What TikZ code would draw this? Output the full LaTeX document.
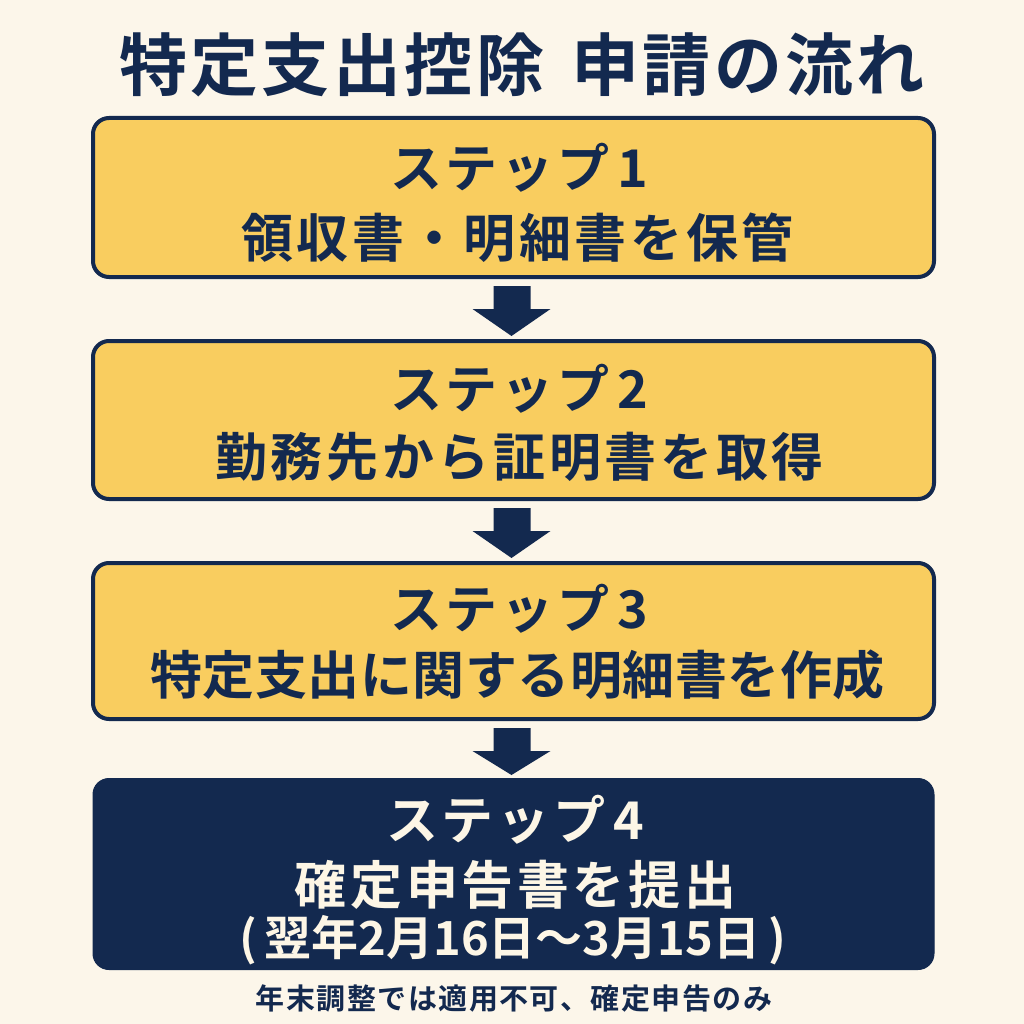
\documentclass[tikz,border=0pt]{standalone}
\usepackage{fontspec}
\setmainfont{Noto Sans CJK JP}[BoldFont={Noto Sans CJK JP Bold}]
\usetikzlibrary{calc}
\definecolor{bg}{HTML}{FCF6EA}
\definecolor{navy}{HTML}{13294F}
\definecolor{gold}{HTML}{F9CD5F}
\definecolor{cream}{HTML}{FDF6E6}
\newcommand{\lsp}[1]{\addfontfeature{LetterSpace=#1}}
\begin{document}
\begin{tikzpicture}[x=1pt,y=-1pt,
  stepbox/.style={draw=navy,line width=4pt,fill=gold,rounded corners=16pt,minimum width=841pt,inner sep=0pt},
  finalbox/.style={draw=navy,line width=1pt,fill=navy,rounded corners=16pt,minimum width=841pt,inner sep=0pt},
  bigtext/.style={text=navy,font=\bfseries\fontsize{52}{60}\selectfont,inner sep=0pt},
  whitetext/.style={text=cream,font=\bfseries\fontsize{52}{60}\selectfont,inner sep=0pt},
  downarrow/.style={fill=navy}
]
\fill[bg] (0,0) rectangle (1024,1024);
\useasboundingbox (0,0) rectangle (1024,1024);

\node[text=navy,font=\bfseries\fontsize{68}{76}\selectfont\lsp{5},inner sep=0pt] (title) at (522,65) {特定支出控除\hspace{0.4em}申請の流れ};

\node[stepbox,minimum height=159pt] (b1) at (513.5,197.5) {};
\node[stepbox,minimum height=158pt] (b2) at (513.5,420) {};
\node[stepbox,minimum height=156pt] (b3) at (513.5,641) {};
\node[finalbox,minimum height=191pt] (b4) at (513.5,874) {};

\node[bigtext] (t1a) at ($(b1.north)+(6,52)$) {\lsp{7}ステップ\,1};
\node[bigtext] (t1b) at ($(b1.north)+(4,122)$) {\lsp{7}領収書・明細書を保管};
\node[bigtext] (t2a) at ($(b2.north)+(6,50)$) {\lsp{7}ステップ\,2};
\node[bigtext] (t2b) at ($(b2.north)+(6,118)$) {\lsp{7}勤務先から証明書を取得};
\node[bigtext] (t3a) at ($(b3.north)+(6,48)$) {\lsp{7}ステップ\,3};
\node[bigtext] (t3b) at ($(b3.north)+(4,114)$) {\lsp{1}特定支出に関する明細書を作成};
\node[whitetext] (t4a) at ($(b4.north)+(2,42)$) {\lsp{7}ステップ\,4};
\node[whitetext] (t4b) at ($(b4.north)+(2,107)$) {\lsp{7}確定申告書を提出};
\node[whitetext,font=\bfseries\fontsize{47}{56}\selectfont] (t4c) at ($(b4.north)+(-1,162)$) {(\,翌年2月16日〜3月15日\,)};

\node[text=navy,font=\bfseries\fontsize{29}{34}\selectfont\lsp{5},inner sep=0pt] (note) at (514,998) {年末調整では適用不可、確定申告のみ};

\foreach \a/\b in {b1/b2,b2/b3,b3/b4}{
  \fill[downarrow] ($(\a.south)+(-20,7)$) -- ($(\a.south)+(17,7)$) -- ($(\a.south)+(17,30)$)
    -- ($(\a.south)+(37,30)$) -- ($(\b.north)+(-2,-3)$) -- ($(\a.south)+(-41,30)$)
    -- ($(\a.south)+(-20,30)$) -- cycle;
}
\end{tikzpicture}
\end{document}
